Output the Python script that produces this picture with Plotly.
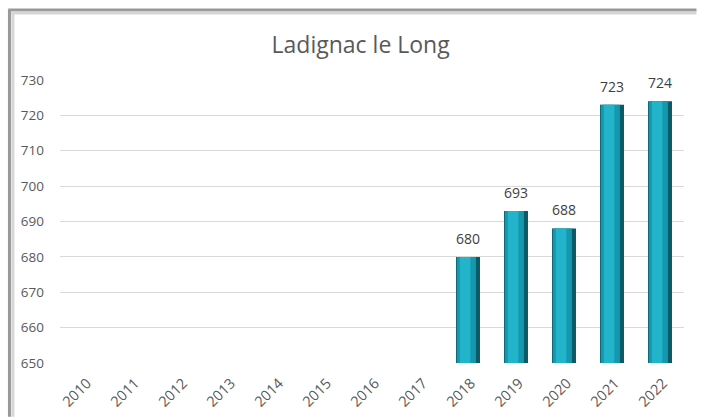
import plotly.graph_objects as go

years = ["2010", "2011", "2012", "2013", "2014", "2015", "2016", "2017",
         "2018", "2019", "2020", "2021", "2022"]
population = [None, None, None, None, None, None, None, None,
              680, 693, 688, 723, 724]
y_ticks = [650, 660, 670, 680, 690, 700, 710, 720, 730]
title_text = "Ladignac le Long"

labels = [str(v) if v is not None else "" for v in population]

fig = go.Figure()
# dark edge of the cylinder-like bars
fig.add_trace(go.Bar(
    x=years, y=population, width=0.5,
    marker=dict(color="#0b5a66", line=dict(width=0)),
    hoverinfo="x+y", showlegend=False,
))
# main body
fig.add_trace(go.Bar(
    x=years, y=population, width=0.40, offset=-0.235,
    marker=dict(color="#1598ae", line=dict(width=0)),
    hoverinfo="skip", showlegend=False,
))
# highlight
fig.add_trace(go.Bar(
    x=years, y=population, width=0.22, offset=-0.17,
    marker=dict(color="#22b4ca", line=dict(width=0)),
    hoverinfo="skip", showlegend=False,
))
# value labels
fig.add_trace(go.Scatter(
    x=years, y=population, mode="markers+text", text=labels,
    textposition="top center", cliponaxis=False,
    marker=dict(size=14, color="rgba(0,0,0,0)"),
    textfont=dict(family="Open Sans, sans-serif", size=14, color="#404040"),
    hoverinfo="skip", showlegend=False,
))

fig.update_layout(
    width=703, height=420,
    barmode="overlay",
    paper_bgcolor="white", plot_bgcolor="white",
    margin=dict(l=60, r=19, t=80, b=57),
    title=dict(text=title_text, x=0.513, xanchor="center", y=0.893, yanchor="middle",
               font=dict(family="Open Sans, sans-serif", size=23, color="#595959")),
    font=dict(family="Open Sans, sans-serif", color="#595959"),
    xaxis=dict(
        type="category", categoryorder="array", categoryarray=years,
        range=[-0.5, len(years) - 0.5],
        tickangle=-45, tickfont=dict(size=14.5, color="#595959"),
        showgrid=False, showline=False, zeroline=False, ticks="",
        ticklabelshift=3, ticklabelstandoff=8, automargin=False,
    ),
    yaxis=dict(
        range=[650, 730], tickvals=y_ticks,
        tickfont=dict(size=13.5, color="#595959"),
        showgrid=True, gridcolor="#d9d9d9", gridwidth=1,
        zeroline=False, showline=False, ticks="",
        ticklabelstandoff=15, automargin=False,
    ),
    shapes=[
        dict(type="line", xref="paper", yref="paper", x0=-0.081, x1=-0.081, y0=-0.19, y1=1.247,
             line=dict(color="#999999", width=3)),
        dict(type="line", xref="paper", yref="paper", x0=-0.0755, x1=-0.0755, y0=-0.19, y1=1.237,
             line=dict(color="#d6d6d6", width=3)),
        dict(type="line", xref="paper", yref="paper", x0=-0.083, x1=1.02, y0=1.247, y1=1.247,
             line=dict(color="#999999", width=3)),
        dict(type="line", xref="paper", yref="paper", x0=-0.078, x1=1.02, y0=1.237, y1=1.237,
             line=dict(color="#d6d6d6", width=3)),
    ],
)

fig.write_html(
    "out.html", config={"displayModeBar": False},
    post_script=("document.documentElement.style.overflow='hidden';"
                 "document.body.style.margin='0';"
                 "document.body.style.overflow='hidden';"),
)
